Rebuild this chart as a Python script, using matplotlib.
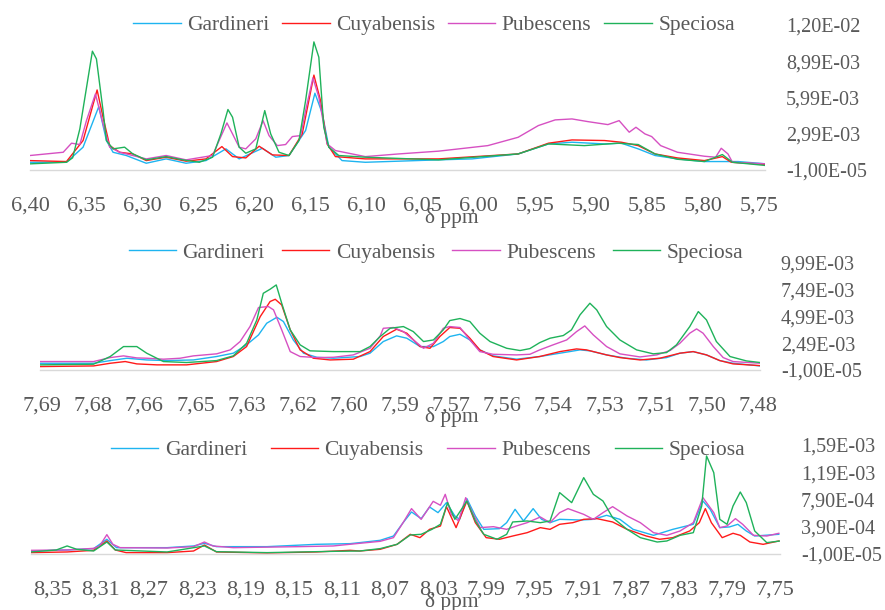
import matplotlib
matplotlib.use('Agg')
import matplotlib.pyplot as plt

# ---- panel 1: 6.40 - 5.75 ppm (intensity x 1e-3) ----
p1_gard_x = [6.400, 6.3675, 6.3527, 6.3387, 6.3319, 6.3260, 6.3142, 6.2964, 6.2787, 6.2609, 6.2432, 6.2254,
             6.2136, 6.1929, 6.1810, 6.1692, 6.1544, 6.1461, 6.1396, 6.1337, 6.1219, 6.1012, 6.036, 6.006,
             5.965, 5.938, 5.917, 5.888, 5.873, 5.858, 5.843, 5.823, 5.799, 5.769, 5.744]
p1_gard_y = [0.63, 0.63, 1.88, 5.24, 2.43, 1.46, 1.19, 0.55, 0.91, 0.55, 0.77, 1.74,
             0.91, 1.79, 1.05, 1.19, 3.26, 6.35, 4.70, 1.88, 0.77, 0.63, 0.83, 0.91,
             1.32, 2.15, 2.29, 2.15, 2.21, 1.74, 1.19, 0.91, 0.69, 0.69, 0.50]
p1_cuya_x = [6.400, 6.3675, 6.3527, 6.3402, 6.3349, 6.3290, 6.3201, 6.3083, 6.2964, 6.2787, 6.2609, 6.2432,
             6.2290, 6.2195, 6.2077, 6.1958, 6.1840, 6.1692, 6.1574, 6.1470, 6.1411, 6.1352, 6.1278, 6.1012,
             6.036, 5.965, 5.938, 5.917, 5.888, 5.873, 5.858, 5.843, 5.823, 5.799, 5.783, 5.775, 5.744]
p1_cuya_y = [0.77, 0.69, 2.43, 6.62, 4.36, 2.01, 1.46, 1.32, 0.77, 1.05, 0.72, 0.91,
             1.93, 1.10, 0.99, 1.96, 1.24, 1.19, 2.98, 7.85, 5.74, 2.15, 1.10, 0.91,
             0.91, 1.32, 2.21, 2.48, 2.43, 2.29, 2.01, 1.32, 0.99, 0.77, 1.10, 0.63, 0.45]
p1_pube_x = [6.400, 6.3704, 6.3630, 6.3556, 6.3497, 6.3417, 6.3349, 6.3290, 6.3201, 6.2964, 6.2787, 6.2609,
             6.2373, 6.2328, 6.2245, 6.2195, 6.2136, 6.2077, 6.1988, 6.1923, 6.1870, 6.1796, 6.1722, 6.1662,
             6.1588, 6.1544, 6.1479, 6.1426, 6.1352, 6.1278, 6.1012, 6.0716, 6.036, 5.992, 5.965, 5.947,
             5.932, 5.917, 5.903, 5.885, 5.875, 5.866, 5.860, 5.852, 5.846, 5.838, 5.823, 5.799, 5.789,
             5.784, 5.778, 5.774, 5.744]
p1_pube_y = [1.19, 1.46, 2.21, 2.10, 4.08, 6.29, 3.81, 1.88, 1.46, 0.91, 1.19, 0.83,
             1.19, 2.15, 3.89, 2.98, 1.88, 1.74, 2.57, 4.08, 2.84, 2.01, 2.10, 2.76,
             2.84, 4.91, 7.62, 6.02, 2.15, 1.60, 1.10, 1.32, 1.55, 2.01, 2.70, 3.67,
             4.14, 4.22, 4.00, 3.75, 4.08, 3.12, 3.53, 2.98, 2.76, 2.01, 1.46, 1.13, 1.05,
             1.79, 1.32, 0.63, 0.50]
p1_spec_x = [6.400, 6.3675, 6.3620, 6.3556, 6.3444, 6.3408, 6.3349, 6.3319, 6.3260, 6.3157, 6.3083, 6.2964,
             6.2787, 6.2639, 6.2491, 6.2373, 6.2299, 6.2236, 6.2195, 6.2136, 6.2077, 6.1988, 6.1908, 6.1855,
             6.1781, 6.1692, 6.1603, 6.1544, 6.1470, 6.1426, 6.1382, 6.1337, 6.1248, 6.1012, 6.036, 5.965,
             5.938, 5.906, 5.876, 5.858, 5.843, 5.823, 5.799, 5.783, 5.774, 5.744]
p1_spec_y = [0.50, 0.63, 1.00, 3.39, 9.83, 9.19, 4.90, 2.43, 1.74, 1.88, 1.32, 0.83,
             1.10, 0.83, 0.63, 1.05, 2.98, 5.00, 4.36, 1.88, 1.38, 1.74, 4.91, 2.98,
             1.46, 1.19, 2.43, 5.74, 10.6, 9.33, 3.53, 1.88, 1.19, 1.05, 0.83, 1.32,
             2.15, 2.01, 2.21, 2.10, 1.32, 0.88, 0.69, 1.27, 0.63, 0.36]

# ---- panel 2: 7.69 - 7.48 ppm (intensity x 1e-3) ----
p2_gard_x = [7.6906, 7.6749, 7.6700, 7.6651, 7.6593, 7.6534, 7.6456, 7.6388, 7.6339, 7.6300, 7.6265, 7.6241,
             7.6211, 7.6192, 7.6163, 7.6133, 7.6094, 7.6045, 7.5967, 7.5938, 7.5899, 7.5860, 7.5830, 7.5791,
             7.5752, 7.5723, 7.5704, 7.5674, 7.5645, 7.5616, 7.5577, 7.5508, 7.5440, 7.5381, 7.5322, 7.5293,
             7.5244, 7.5186, 7.5127, 7.5068, 7.5029, 7.4990, 7.4951, 7.4912, 7.4873, 7.4794]
p2_gard_y = [0.62, 0.62, 0.87, 1.09, 0.93, 0.87, 0.93, 1.25, 1.56, 2.34, 3.27, 4.36,
             4.92, 4.52, 2.80, 1.56, 1.18, 1.09, 1.25, 1.56, 2.65, 3.18, 2.96, 2.18,
             2.18, 2.65, 3.12, 3.33, 2.80, 1.87, 1.31, 1.00, 1.25, 1.56, 1.87, 1.78,
             1.40, 1.09, 0.93, 1.15, 1.56, 1.71, 1.40, 0.87, 0.62, 0.37]
p2_cuya_x = [7.6906, 7.6749, 7.6700, 7.6656, 7.6622, 7.6563, 7.6476, 7.6388, 7.6339, 7.6300, 7.6260, 7.6231,
             7.6216, 7.6197, 7.6172, 7.6143, 7.6104, 7.6055, 7.5987, 7.5938, 7.5899, 7.5860, 7.5830, 7.5791,
             7.5762, 7.5733, 7.5704, 7.5674, 7.5645, 7.5616, 7.5577, 7.5508, 7.5440, 7.5381, 7.5332, 7.5303,
             7.5244, 7.5205, 7.5146, 7.5088, 7.5029, 7.4990, 7.4951, 7.4912, 7.4873, 7.4794]
p2_cuya_y = [0.31, 0.37, 0.62, 0.78, 0.56, 0.47, 0.47, 0.78, 1.25, 2.18, 4.98, 6.39,
             6.60, 6.07, 3.74, 1.87, 1.09, 0.93, 1.00, 1.71, 3.12, 3.80, 3.43, 2.18,
             2.02, 3.12, 3.96, 3.89, 2.96, 1.87, 1.25, 0.93, 1.25, 1.71, 1.96, 1.87,
             1.40, 1.15, 0.93, 1.09, 1.56, 1.71, 1.40, 0.87, 0.56, 0.40]
p2_pube_x = [7.6906, 7.6749, 7.6700, 7.6661, 7.6622, 7.6593, 7.6544, 7.6495, 7.6456, 7.6388, 7.6348, 7.6319,
             7.6290, 7.6265, 7.6236, 7.6221, 7.6197, 7.6172, 7.6143, 7.6094, 7.6045, 7.5987, 7.5938, 7.5908,
             7.5899, 7.5869, 7.5840, 7.5811, 7.5781, 7.5752, 7.5723, 7.5704, 7.5674, 7.5645, 7.5616, 7.5577,
             7.5508, 7.5469, 7.5440, 7.5401, 7.5361, 7.5332, 7.5308, 7.5283, 7.5244, 7.5205, 7.5146, 7.5097,
             7.5058, 7.5029, 7.5000, 7.4980, 7.4961, 7.4931, 7.4902, 7.4873, 7.4794]
p2_pube_y = [0.78, 0.78, 1.15, 1.31, 1.12, 1.09, 1.00, 1.09, 1.31, 1.50, 1.87, 2.65,
             4.05, 5.83, 5.92, 5.61, 3.74, 1.71, 1.25, 1.15, 1.18, 1.40, 2.02, 3.18,
             3.89, 3.96, 3.58, 2.80, 2.02, 2.49, 3.89, 4.05, 3.96, 2.80, 1.71, 1.46,
             1.40, 1.46, 1.87, 2.34, 2.80, 3.58, 4.11, 3.27, 2.18, 1.50, 1.21, 1.40,
             1.81, 2.49, 3.43, 3.83, 3.43, 2.18, 1.15, 0.78, 0.62]
p2_spec_x = [7.6906, 7.6749, 7.6700, 7.6661, 7.6622, 7.6593, 7.6544, 7.6476, 7.6388, 7.6339, 7.6300, 7.6270,
             7.6251, 7.6231, 7.6213, 7.6197, 7.6172, 7.6143, 7.6114, 7.6045, 7.5967, 7.5938, 7.5908, 7.5879,
             7.5840, 7.5811, 7.5781, 7.5752, 7.5723, 7.5704, 7.5674, 7.5645, 7.5616, 7.5586, 7.5537, 7.5498,
             7.5469, 7.5440, 7.5410, 7.5371, 7.5347, 7.5322, 7.5293, 7.5273, 7.5244, 7.5205, 7.5156, 7.5107,
             7.5068, 7.5039, 7.5000, 7.4975, 7.4951, 7.4922, 7.4882, 7.4834, 7.4794]
p2_spec_y = [0.47, 0.53, 1.25, 2.18, 2.18, 1.56, 0.78, 0.69, 0.87, 1.31, 2.49, 4.67,
             7.16, 7.54, 7.94, 6.23, 3.74, 2.34, 1.78, 1.71, 1.71, 2.18, 3.12, 3.89,
             4.05, 3.58, 2.65, 2.80, 3.74, 4.61, 4.80, 4.52, 3.43, 2.65, 2.02, 1.81,
             1.99, 2.55, 2.96, 3.21, 3.74, 5.14, 6.23, 5.61, 4.05, 2.80, 1.87, 1.50,
             1.62, 2.34, 4.05, 5.45, 4.67, 2.65, 1.25, 0.84, 0.69]

# ---- panel 3: 8.35 - 7.75 ppm (intensity x 1e-4) ----
p3_gard_x = [8.368, 8.338, 8.316, 8.305, 8.297, 8.255, 8.233, 8.224, 8.214, 8.172, 8.131, 8.103,
             8.095, 8.078, 8.067, 8.059, 8.052, 8.044, 8.037, 8.030, 8.023, 8.016, 8.012, 8.006,
             7.999, 7.992, 7.979, 7.973, 7.966, 7.959, 7.951, 7.944, 7.937, 7.929, 7.912, 7.901,
             7.890, 7.879, 7.868, 7.851, 7.835, 7.818, 7.810, 7.804, 7.796, 7.788, 7.781, 7.774,
             7.767, 7.747]
p3_gard_y = [0.34, 0.49, 0.69, 2.06, 0.83, 0.83, 1.08, 1.47, 0.98, 0.98, 1.32, 1.42,
             1.57, 1.91, 2.54, 4.50, 6.07, 5.09, 6.80, 5.97, 7.44, 5.48, 4.99, 8.02,
             5.48, 3.52, 3.62, 4.50, 6.46, 4.75, 6.56, 4.99, 4.50, 4.99, 4.89, 4.99,
             5.58, 4.99, 3.52, 2.64, 3.52, 4.26, 7.68, 6.46, 3.77, 3.87, 4.26, 3.28,
             2.54, 2.79]
p3_cuya_x = [8.368, 8.338, 8.316, 8.305, 8.298, 8.289, 8.255, 8.233, 8.224, 8.214, 8.172, 8.131,
             8.103, 8.095, 8.078, 8.064, 8.053, 8.045, 8.037, 8.028, 8.023, 8.015, 8.006, 7.999,
             7.990, 7.979, 7.968, 7.956, 7.945, 7.937, 7.929, 7.918, 7.909, 7.898, 7.885, 7.873,
             7.857, 7.846, 7.835, 7.821, 7.813, 7.808, 7.803, 7.794, 7.785, 7.779, 7.771, 7.760,
             7.747]
p3_cuya_y = [0.10, 0.20, 0.44, 1.81, 0.49, 0.10, 0.10, 0.34, 1.22, 0.20, 0.05, 0.20,
             0.44, 0.34, 0.59, 1.32, 2.79, 2.30, 3.52, 4.01, 6.85, 3.77, 7.68, 4.50,
             2.30, 2.06, 2.54, 3.03, 3.77, 3.52, 4.26, 4.50, 4.99, 5.09, 4.60, 3.52,
             2.54, 2.06, 2.30, 3.28, 4.50, 6.56, 4.50, 2.30, 2.94, 2.64, 1.66, 1.32,
             1.81]
p3_pube_x = [8.368, 8.338, 8.316, 8.311, 8.305, 8.300, 8.294, 8.255, 8.233, 8.224, 8.217, 8.200,
             8.145, 8.117, 8.095, 8.078, 8.067, 8.059, 8.052, 8.044, 8.034, 8.028, 8.024, 8.019,
             8.013, 8.007, 8.002, 7.995, 7.984, 7.973, 7.965, 7.956, 7.945, 7.937, 7.929, 7.922,
             7.909, 7.901, 7.893, 7.885, 7.873, 7.862, 7.851, 7.840, 7.829, 7.818, 7.810, 7.801,
             7.796, 7.790, 7.783, 7.777, 7.768, 7.757, 7.747]
p3_pube_y = [0.44, 0.49, 0.73, 1.08, 2.74, 1.32, 0.83, 0.78, 0.98, 1.66, 1.08, 0.83,
             0.98, 1.08, 1.47, 1.76, 2.30, 4.50, 6.56, 4.99, 7.63, 7.05, 8.66, 5.72,
             4.75, 8.17, 6.21, 3.77, 3.91, 3.52, 4.01, 4.50, 5.33, 4.50, 5.97, 6.56,
             5.72, 4.99, 5.97, 6.85, 5.48, 4.50, 3.03, 2.64, 3.28, 4.50, 8.17, 5.97,
             3.77, 4.01, 5.09, 4.26, 2.64, 2.54, 2.94]
p3_spec_x = [8.368, 8.347, 8.338, 8.330, 8.316, 8.305, 8.298, 8.255, 8.224, 8.214, 8.172, 8.117,
             8.095, 8.078, 8.064, 8.053, 8.044, 8.035, 8.028, 8.022, 8.016, 8.006, 7.999, 7.992,
             7.981, 7.973, 7.968, 7.956, 7.945, 7.937, 7.929, 7.919, 7.909, 7.901, 7.893, 7.885,
             7.873, 7.862, 7.848, 7.840, 7.829, 7.818, 7.811, 7.807, 7.801, 7.796, 7.790, 7.785,
             7.779, 7.774, 7.767, 7.757, 7.746]
p3_spec_y = [0.20, 0.49, 1.08, 0.59, 0.34, 1.66, 0.49, 0.20, 1.08, 0.24, 0.10, 0.29,
             0.34, 0.69, 1.32, 2.69, 2.79, 3.52, 4.26, 7.44, 4.99, 7.68, 4.75, 2.79,
             2.06, 2.79, 4.60, 4.75, 4.50, 4.75, 8.91, 7.44, 11.11, 8.66, 7.68, 5.24,
             3.52, 2.30, 1.66, 1.81, 2.64, 3.03, 6.95, 14.29, 11.84, 4.99, 4.26, 6.95,
             9.00, 7.44, 3.28, 1.57, 1.81]

# axis ticks and labels
p1_xticks = [6.40, 6.35, 6.30, 6.25, 6.20, 6.15, 6.10, 6.05, 6.00, 5.95, 5.90, 5.85, 5.80, 5.75]
p1_xlabels = ['6,40', '6,35', '6,30', '6,25', '6,20', '6,15', '6,10', '6,05', '6,00', '5,95', '5,90',
              '5,85', '5,80', '5,75']
p1_yticks = [-1.0e-5, 2.99e-3, 5.99e-3, 8.99e-3, 1.20e-2]
p1_ylabels = ['-1,00E-05', '2,99E-03', '5,99E-03', '8,99E-03', '1,20E-02']

p2_xticks = [7.690, 7.675, 7.660, 7.645, 7.630, 7.615, 7.600, 7.585, 7.570, 7.555, 7.540, 7.525,
             7.510, 7.495, 7.480]
p2_xlabels = ['7,69', '7,68', '7,66', '7,65', '7,63', '7,62', '7,60', '7,59', '7,57', '7,56', '7,54',
              '7,53', '7,51', '7,50', '7,48']
p2_yticks = [-1.0e-5, 2.49e-3, 4.99e-3, 7.49e-3, 9.99e-3]
p2_ylabels = ['-1,00E-05', '2,49E-03', '4,99E-03', '7,49E-03', '9,99E-03']

p3_xticks = [8.35, 8.31, 8.27, 8.23, 8.19, 8.15, 8.11, 8.07, 8.03, 7.99, 7.95, 7.91, 7.87, 7.83,
             7.79, 7.75]
p3_xlabels = ['8,35', '8,31', '8,27', '8,23', '8,19', '8,15', '8,11', '8,07', '8,03', '7,99', '7,95',
              '7,91', '7,87', '7,83', '7,79', '7,75']
p3_yticks = [-1.0e-5, 3.90e-4, 7.90e-4, 1.19e-3, 1.59e-3]
p3_ylabels = ['-1,00E-05', '3,90E-04', '7,90E-04', '1,19E-03', '1,59E-03']

names = ['Gardineri', 'Cuyabensis', 'Pubescens', 'Speciosa']
colors = ['#1EB4F0', '#FF1A1A', '#D650C2', '#1FB25A']
gray = '#595959'

plt.rcParams['font.family'] = ['Liberation Serif', 'DejaVu Serif']

fig = plt.figure(figsize=(8.85, 6.10), dpi=100)


def draw_panel(rect, xs, ys, scale, xlim, ylim, xticks, xlabels, yticks, ylabels, leg_xy, lab_xy, colsp):
    ax = fig.add_axes(rect)
    for x, y, name, c in zip(xs, ys, names, colors):
        ax.plot(x, [v * scale for v in y], color=c, lw=1.0, label=name)
    ax.set_xlim(*xlim)
    ax.set_ylim(*ylim)
    ax.set_xticks(xticks)
    ax.set_xticklabels(xlabels)
    ax.set_yticks(yticks)
    ax.set_yticklabels(ylabels)
    ax.yaxis.tick_right()
    ax.tick_params(axis='x', length=0, pad=19, labelsize=16, labelcolor=gray)
    ax.tick_params(axis='y', length=0, pad=15, labelsize=14.5, labelcolor=gray)
    for s in ['top', 'left', 'right']:
        ax.spines[s].set_visible(False)
    ax.spines['bottom'].set_color('#D9D9D9')
    ax.spines['bottom'].set_linewidth(1.0)
    fig.legend(handles=ax.get_lines(), loc='center', bbox_to_anchor=leg_xy, ncol=4, frameon=False,
               fontsize=15.5, labelcolor=gray, handlelength=2.2, handletextpad=0.3,
               columnspacing=colsp, borderaxespad=0)
    fig.text(lab_xy[0], lab_xy[1], 'δ ppm', ha='center', va='center', fontsize=15.5, color=gray)
    return ax


W, H = 885.0, 610.0

draw_panel([30 / W, 1 - 170 / H, 735 / W, 145 / H],
           [p1_gard_x, p1_cuya_x, p1_pube_x, p1_spec_x],
           [p1_gard_y, p1_cuya_y, p1_pube_y, p1_spec_y], 1e-3,
           (6.40, 5.745), (-1.0e-5, 1.20e-2), p1_xticks, p1_xlabels, p1_yticks, p1_ylabels,
           (434 / W, 1 - 25 / H), (452 / W, 1 - 218 / H), 0.6)

draw_panel([40 / W, 1 - 370 / H, 720 / W, 107 / H],
           [p2_gard_x, p2_cuya_x, p2_pube_x, p2_spec_x],
           [p2_gard_y, p2_cuya_y, p2_pube_y, p2_spec_y], 1e-3,
           (7.6906, 7.4794), (-1.0e-5, 9.99e-3), p2_xticks, p2_xlabels, p2_yticks, p2_ylabels,
           (436 / W, 1 - 253 / H), (452 / W, 1 - 417 / H), 0.8)

draw_panel([31 / W, 1 - 554 / H, 749 / W, 109 / H],
           [p3_gard_x, p3_cuya_x, p3_pube_x, p3_spec_x],
           [p3_gard_y, p3_cuya_y, p3_pube_y, p3_spec_y], 1e-4,
           (8.368, 7.746), (-1.0e-5, 1.59e-3), p3_xticks, p3_xlabels, p3_yticks, p3_ylabels,
           (428 / W, 1 - 450 / H), (452 / W, 1 - 602 / H), 1.1)

plt.savefig('out.png', dpi=100)
plt.close()
